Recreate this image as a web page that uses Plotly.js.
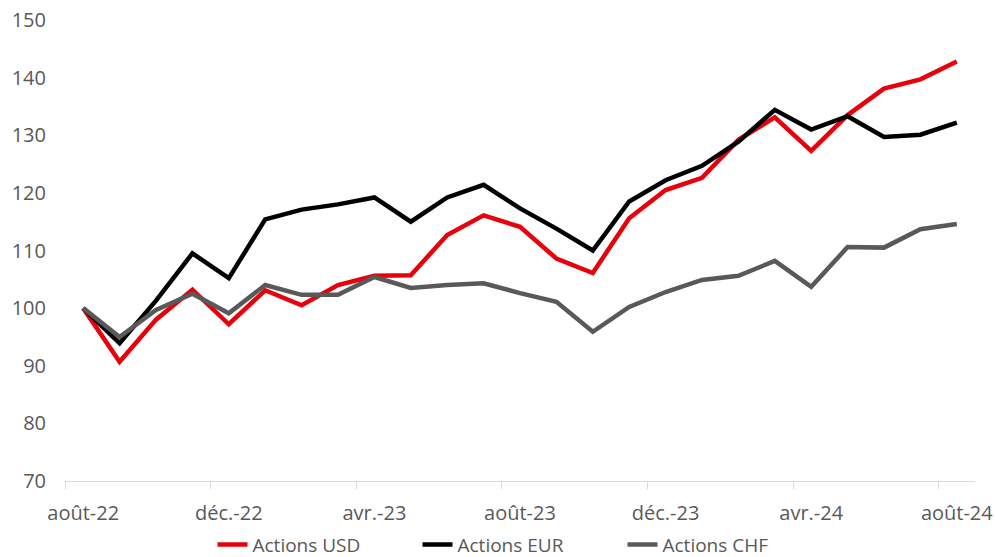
<!DOCTYPE html>
<html>
<head>
<meta charset="utf-8">
<script src="https://cdn.plot.ly/plotly-3.0.1.min.js"></script>
<style>html,body{margin:0;padding:0;background:#fff;}#chart{width:995px;height:557px;}</style>
</head>
<body>
<div id="chart"></div>
<script>
var months = ["août-22","sept.-22","oct.-22","nov.-22","déc.-22","janv.-23","févr.-23","mars-23","avr.-23","mai-23","juin-23","juil.-23","août-23","sept.-23","oct.-23","nov.-23","déc.-23","janv.-24","févr.-24","mars-24","avr.-24","mai-24","juin-24","juil.-24","août-24"];
var actionsUSD = [100, 90.7, 98.0, 103.2, 97.2, 103.1, 100.5, 104.0, 105.6, 105.7, 112.7, 116.1, 114.1, 108.6, 106.1, 115.6, 120.5, 122.6, 129.2, 133.1, 127.3, 133.5, 138.1, 139.7, 142.8];
var actionsEUR = [100, 93.9, 101.3, 109.5, 105.2, 115.4, 117.1, 118.0, 119.2, 115.0, 119.2, 121.4, 117.3, 113.8, 110.0, 118.5, 122.2, 124.7, 128.9, 134.4, 131.0, 133.3, 129.7, 130.1, 132.2];
var actionsCHF = [100, 95.0, 99.7, 102.5, 99.1, 104.0, 102.3, 102.3, 105.4, 103.5, 104.0, 104.3, 102.6, 101.1, 95.9, 100.2, 102.8, 104.9, 105.6, 108.2, 103.7, 110.6, 110.5, 113.7, 114.6];
var tickIdx = [0, 4, 8, 12, 16, 20, 24];
var tickLabels = tickIdx.map(function(i){ return months[i]; });
var idx = months.map(function(_, i){ return i; });

var font = "'Open Sans', 'Noto Sans', sans-serif";
var traces = [
  {x: idx, y: actionsUSD, name: "Actions USD", mode: "lines", line: {color: "#E8000B", width: 4.5}},
  {x: idx, y: actionsEUR, name: "Actions EUR", mode: "lines", line: {color: "#000000", width: 4.5}},
  {x: idx, y: actionsCHF, name: "Actions CHF", mode: "lines", line: {color: "#595959", width: 4.5}}
];
var layout = {
  width: 995, height: 557,
  margin: {l: 65, r: 20, t: 20, b: 76, autoexpand: false},
  paper_bgcolor: "#fff", plot_bgcolor: "#fff",
  font: {family: font, size: 20, color: "#595959"},
  showlegend: true,
  legend: {orientation: "h", x: 0.5, xanchor: "center", y: -0.097, yanchor: "top",
           font: {family: font, size: 19, color: "#595959"}, tracegroupgap: 0, entrywidth: 160},
  xaxis: {
    range: [-0.5, 24.5], tickmode: "array", tickvals: tickIdx, ticktext: tickLabels,
    showgrid: false, zeroline: false, showline: true, linecolor: "#d9d9d9", linewidth: 1,
    ticks: "outside", ticklen: 14, tickcolor: "rgba(0,0,0,0)",
    minor: {tick0: -0.5, dtick: 4, ticks: "outside", ticklen: 7, tickcolor: "#d9d9d9", tickwidth: 1, showgrid: false},
    tickfont: {family: font, size: 20, color: "#595959"}
  },
  yaxis: {
    range: [70, 150], dtick: 10, tick0: 70, showgrid: false, zeroline: false, showline: false,
    ticks: "", tickfont: {family: font, size: 20, color: "#595959"}, ticklabelstandoff: 18
  }
};
Plotly.newPlot("chart", traces, layout, {displayModeBar: false, staticPlot: true});
</script>
</body>
</html>
